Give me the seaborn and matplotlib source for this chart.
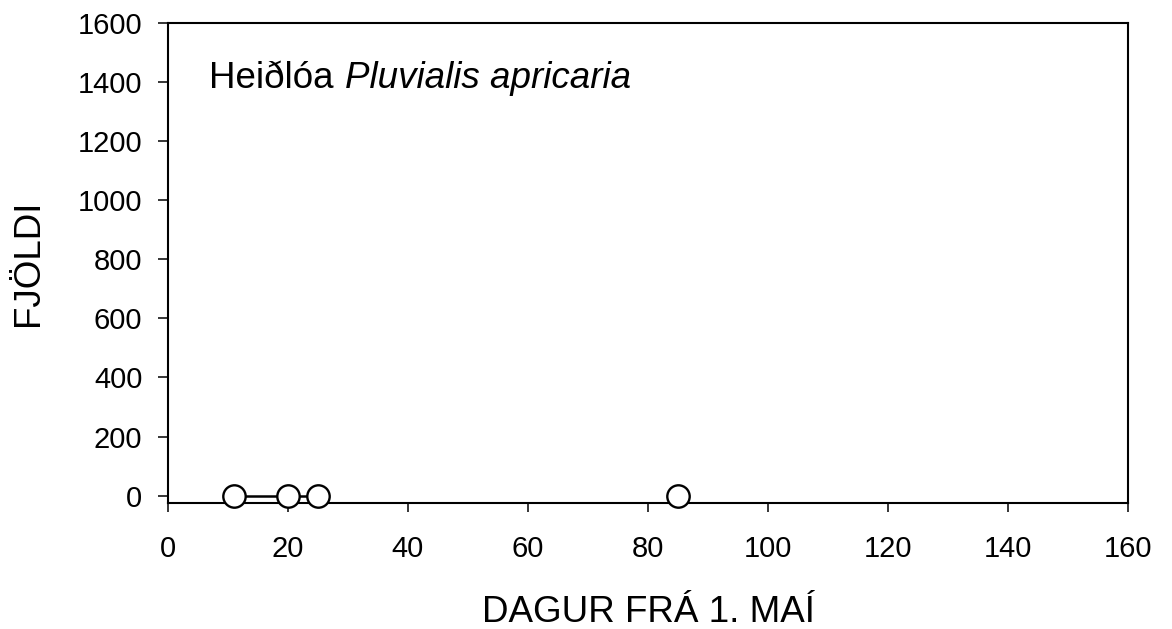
import matplotlib
matplotlib.use("Agg")
import matplotlib.pyplot as plt
import seaborn as sns
import pandas as pd

# data
days = [11, 20, 25, 85]
counts = [0, 0, 0, 0]
segments = [1, 1, 1, 2]
x_ticks = [0, 20, 40, 60, 80, 100, 120, 140, 160]
y_ticks = [0, 200, 400, 600, 800, 1000, 1200, 1400, 1600]
species_common = "Heiðlóa"
species_latin = "Pluvialis apricaria"
x_label = "DAGUR FRÁ 1. MAÍ"
y_label = "FJÖLDI"

df = pd.DataFrame({"dagur": days, "fjoldi": counts, "seg": segments})

sns.set_theme(style="ticks")
plt.rcParams["font.family"] = ["Liberation Sans", "DejaVu Sans"]

fig = plt.figure(figsize=(11.72, 6.29), dpi=100)
ax = fig.add_axes([168 / 1172, 1 - 503 / 629, (1128 - 168) / 1172, (503 - 23) / 629])

sns.lineplot(data=df, x="dagur", y="fjoldi", units="seg", estimator=None,
             color="black", linewidth=1.8, ax=ax, zorder=3)
sns.scatterplot(data=df, x="dagur", y="fjoldi", marker="o", s=260,
                facecolor="white", edgecolor="black", linewidth=1.7,
                ax=ax, zorder=4, clip_on=False)

ax.set_xlim(0, 160)
ax.set_ylim(-25, 1600)
ax.set_xticks(x_ticks)
ax.set_yticks(y_ticks)
ax.set_xticklabels([str(v) for v in x_ticks])
ax.set_yticklabels([str(v) for v in y_ticks])

for sp in ax.spines.values():
    sp.set_visible(True)
    sp.set_color("black")
    sp.set_linewidth(1.5)

ax.tick_params(axis="x", direction="out", length=6.5, width=1.1, pad=16.5,
               labelsize=21, colors="black")
ax.tick_params(axis="y", direction="out", length=7, width=1.1, pad=11.5,
               labelsize=21, colors="black")

ax.set_xlabel(x_label, fontsize=26.5, labelpad=23, color="black")
ax.set_ylabel(y_label, fontsize=26.5, labelpad=23, color="black")

t1 = ax.text(6.9, 1380, species_common, fontsize=26.5, ha="left",
             va="baseline", color="black")
ax.annotate(species_latin, xy=(1, 0), xycoords=t1, xytext=(8, 0),
            textcoords="offset points", ha="left", va="bottom",
            fontsize=26.5, fontstyle="italic", color="black")

fig.savefig("out.png", dpi=100, facecolor="white")
